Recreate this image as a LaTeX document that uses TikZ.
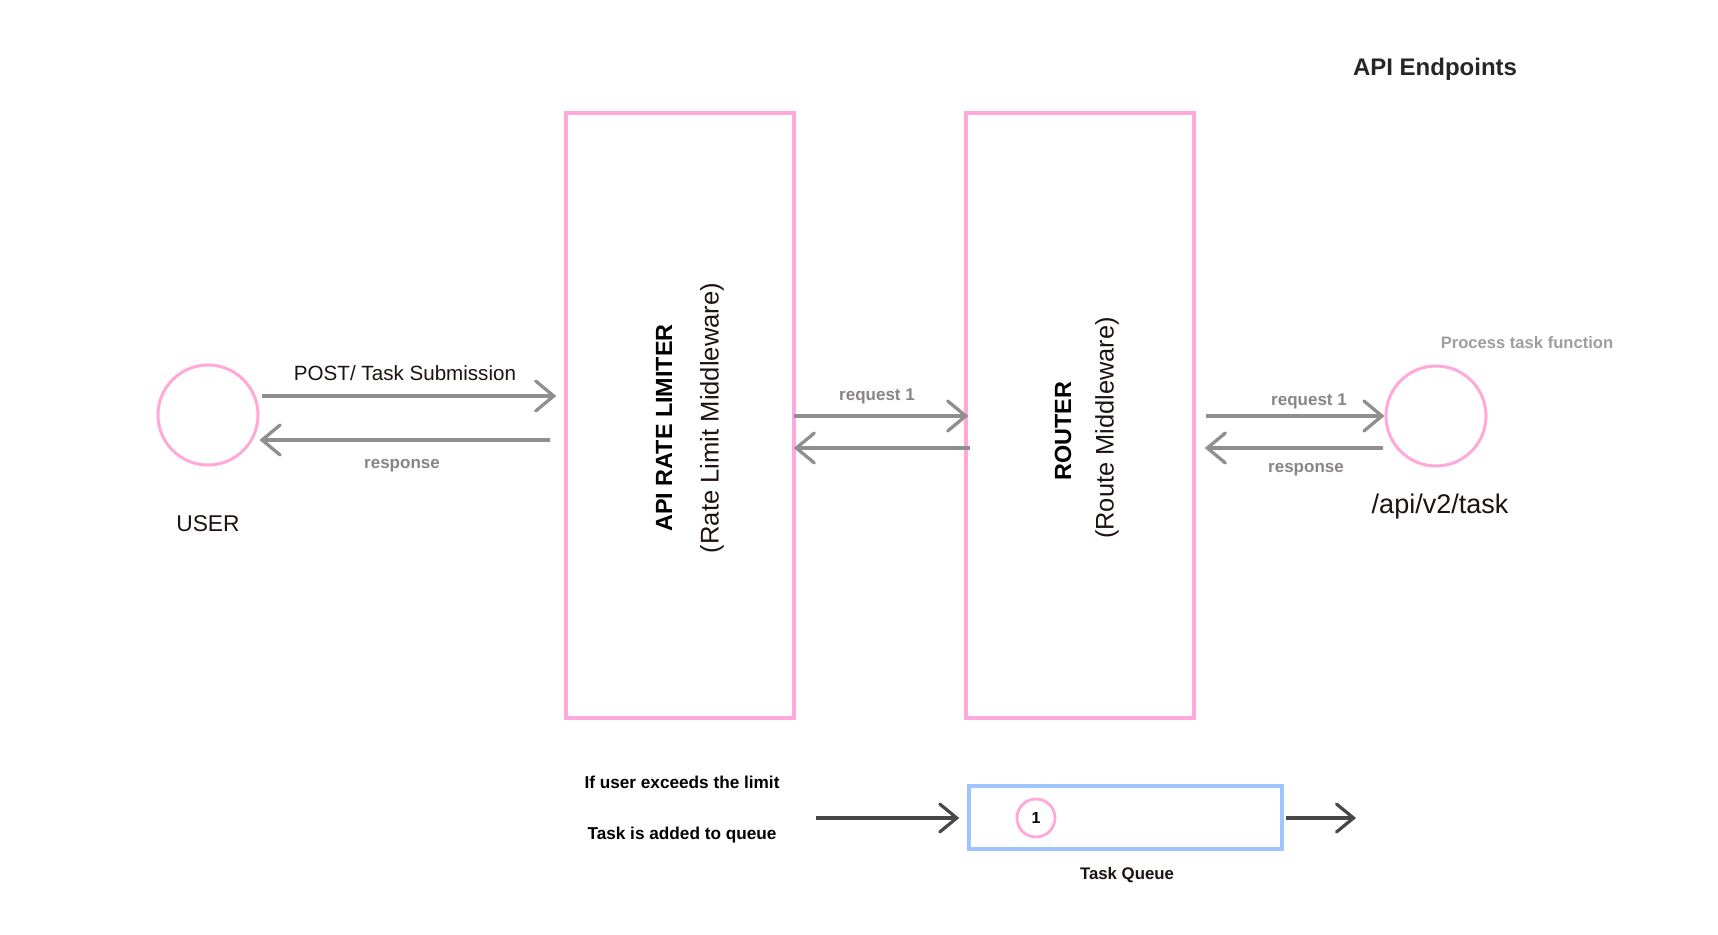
\documentclass[tikz,border=0pt]{standalone}
\usepackage{fontspec}
\setmainfont{Liberation Sans}
\usetikzlibrary{arrows.meta,calc}
\definecolor{pinkc}{HTML}{FFA8D9}
\definecolor{bluec}{HTML}{9FC5FF}
\definecolor{arrgray}{HTML}{8F8F8F}
\definecolor{labgray}{HTML}{8A8585}
\definecolor{litegray}{HTML}{9E9E9E}
\definecolor{darkarr}{HTML}{474747}
\definecolor{darktext}{HTML}{1E1212}
\begin{document}
\begin{tikzpicture}[x=0.5pt,y=-0.5pt,
  pinkbox/.style={draw=pinkc,line width=1.75pt,minimum width=114pt,minimum height=302.5pt,inner sep=0pt},
  pinkcirc/.style={draw=pinkc,line width=1.5pt,circle,minimum size=50pt,inner sep=0pt},
  arr/.style={draw=arrgray,line width=1.65pt,-{Straight Barb[length=9pt,width=15pt,line cap=round]}},
  darkarrow/.style={draw=darkarr,line width=1.6pt,-{Straight Barb[length=8.5pt,width=14pt,line cap=round]}},
  lab/.style={text=labgray,font=\bfseries\fontsize{8.5}{10}\selectfont,inner sep=0pt},
  plain/.style={text=darktext,inner sep=0pt},
  boldblack/.style={text=black,font=\bfseries\fontsize{8.6}{10}\selectfont,inner sep=0pt}
]
\useasboundingbox (0,0) rectangle (1718,935);
\fill[white] (0,0) rectangle (1718,935);

% nodes
\node[pinkcirc] (user) at (208,415) {};
\node[pinkbox] (rl) at (680,415.5) {};
\node[pinkbox] (router) at (1080,415.5) {};
\node[pinkcirc] (ep) at (1436,416) {};
\node[draw=bluec,line width=1.75pt,minimum width=156.5pt,minimum height=31.5pt,inner sep=0pt] (queue) at (1125.5,817.5) {};
\node[draw=pinkc,line width=1.4pt,circle,minimum size=19pt,inner sep=0pt,font=\bfseries\fontsize{8}{9}\selectfont] (t1) at (1036,818) {1};

% texts
\node[plain,font=\fontsize{11.4}{13}\selectfont] (usert) at (208,524) {USER};
\node[plain,font=\fontsize{10.3}{12}\selectfont] (postt) at (405,373) {POST/ Task Submission};
\node[lab] (resp1) at (402,466) {response};
\node[lab] (req1) at (877,396) {request 1};
\node[lab] (req2) at (1309,401) {request 1};
\node[lab] (resp2) at (1306,470) {response};
\node[plain,font=\fontsize{13.5}{15}\selectfont] (ept) at (1440,507) {/api/v2/task};
\node[text=litegray,font=\bfseries\fontsize{8.3}{10}\selectfont,inner sep=0pt] (proc) at (1527,343) {Process task function};
\node[text=black!85,font=\bfseries\fontsize{12}{14}\selectfont,inner sep=0pt] (apie) at (1435,69) {API Endpoints};

\node[rotate=90,text=black,font=\bfseries\fontsize{11.7}{13}\selectfont,inner sep=0pt] (rlt) at (664,428) {API RATE LIMITER};
\node[rotate=90,plain,font=\fontsize{12.8}{14}\selectfont] (rlm) at (712,418) {(Rate Limit Middleware)};
\node[rotate=90,text=black,font=\bfseries\fontsize{11.7}{13}\selectfont,inner sep=0pt] (rtt) at (1063,431) {ROUTER};
\node[rotate=90,plain,font=\fontsize{12.7}{14}\selectfont] (rtm) at (1107,428) {(Route Middleware)};

\node[boldblack] (exc) at (682,782) {If user exceeds the limit};
\node[boldblack] (added) at (682,835) {Task is added to queue};
\node[text=darktext,font=\bfseries\fontsize{8.4}{10}\selectfont,inner sep=0pt] (tq) at (1127,875) {Task Queue};

% connectors
\draw[arr] ($(user.east)+(2,-19)$) -- ($(rl.west)+(-8,-19.5)$);
\draw[arr] ($(rl.west)+(-14,24.5)$) -- ($(user.east)+(0,25)$);
\draw[arr] ($(rl.east)+(-2,0.5)$) -- ($(router.west)+(4,0.5)$);
\draw[arr] ($(router.west)+(6,32.5)$) -- ($(rl.east)+(-2,32.5)$);
\draw[arr] ($(router.east)+(10,0.5)$) -- (ep.west);
\draw[arr] ($(ep.west)+(-2,32)$) -- ($(router.east)+(9,32.5)$);

\coordinate (qin) at (816,818);
\coordinate (qout) at (1356,818);
\draw[darkarrow] (qin) -- ($(queue.west)+(-8,0.5)$);
\draw[darkarrow] ($(queue.east)+(2,0.5)$) -- (qout);
\end{tikzpicture}
\end{document}
